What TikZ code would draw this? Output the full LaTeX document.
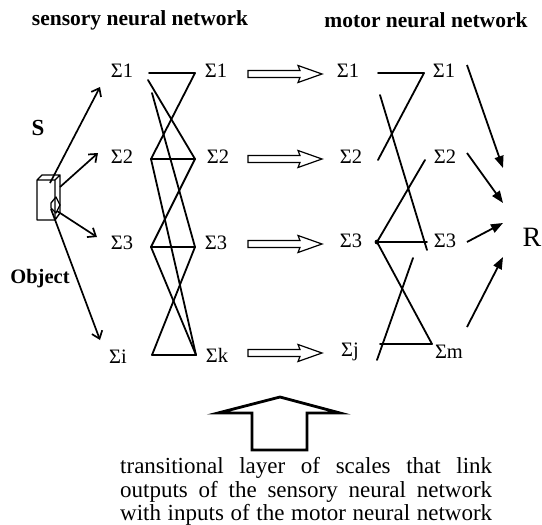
\documentclass[tikz,border=0pt]{standalone}
\usepackage{fontspec}
\setmainfont{Liberation Serif}
\usetikzlibrary{arrows.meta}
\begin{document}
\begin{tikzpicture}[x=1pt,y=-1pt,
  conn/.style={line width=1.8pt,line cap=round},
  sig/.style={inner sep=0pt,font=\fontsize{20.5}{20.5}\selectfont},
  hdr/.style={inner sep=0pt,font=\fontsize{21.5}{21.5}\selectfont\bfseries},
  lbl/.style={inner sep=0pt,font=\fontsize{20.5}{20.5}\selectfont\bfseries},
  ray/.style={line width=1.7pt,-{Straight Barb[length=7pt,width=11pt,line width=1.7pt]}},
  toR/.style={line width=1.8pt,-{Triangle[length=12pt,width=9pt]}},
  hollow/.style={line width=1.2pt,line join=miter},
  bigup/.style={line width=2.8pt,line join=miter},
  capline/.style={inner sep=0pt,anchor=base west,font=\fontsize{23}{23}\selectfont}
]
\useasboundingbox[fill=white] (0,0) rectangle (542,525);

% headings
\node[hdr] (hsens) at (140,20) {sensory neural network};
\node[hdr] (hmot) at (426,20) {motor neural network};

% sensory layer labels
\node[sig] (s1) at (122,71) {Σ1};
\node[sig] (s2) at (122,157) {Σ2};
\node[sig] (s3) at (122,243) {Σ3};
\node[sig] (si) at (118,357) {Σi};
\node[sig] (t1) at (216,71) {Σ1};
\node[sig] (t2) at (218,157) {Σ2};
\node[sig] (t3) at (216,243) {Σ3};
\node[sig] (tk) at (217,355) {Σk};

% motor layer labels
\node[sig] (m1) at (348,71) {Σ1};
\node[sig] (m2) at (351,157) {Σ2};
\node[sig] (m3) at (351,241) {Σ3};
\node[sig] (mj) at (350,352) {Σj};
\node[sig] (n1) at (444,71) {Σ1};
\node[sig] (n2) at (445,157) {Σ2};
\node[sig] (n3) at (445,241) {Σ3};
\node[sig] (nm) at (449,352) {Σm};

\node[inner sep=0pt,font=\fontsize{28}{28}\selectfont] (R) at (532,237) {R};
\node[lbl,font=\fontsize{23}{23}\selectfont\bfseries] (S) at (38,128) {S};
\node[lbl] (obj) at (40,279) {Object};

% sensory network vertices
\coordinate (a1) at (149,73);  \coordinate (b1) at (195,73);
\coordinate (a1x) at (148,80); \coordinate (a1y) at (152,93);
\coordinate (a2) at (151,159); \coordinate (b2) at (195,159);
\coordinate (a3) at (151,247); \coordinate (b3) at (195,247);
\coordinate (a4) at (152,355); \coordinate (b4) at (196,355);

\draw[conn] (a1) -- (b1);
\draw[conn] (b1) -- (a2);
\draw[conn] (a1x) -- (b2);
\draw[conn] (a1y) -- (b3);
\draw[conn] (a2) -- (b2);
\draw[conn] (b2) -- (a3);
\draw[conn] (a2) -- (b4);
\draw[conn] (a3) -- (b3);
\draw[conn] (a3) -- (b4);
\draw[conn] (b3) -- (a4);
\draw[conn] (a4) -- (b4);

% motor network vertices
\coordinate (c1) at (378,73);  \coordinate (d1) at (424,73);
\coordinate (c2) at (378,160); \coordinate (d2) at (425,160);
\coordinate (c1y) at (380,95); \coordinate (d3x) at (427,250);
\coordinate (c3) at (377,242); \coordinate (d3) at (427,242);
\coordinate (d3y) at (413,258); \coordinate (c4x) at (377,360);
\coordinate (c4) at (380,344); \coordinate (d4) at (432,344);

\draw[conn] (c1) -- (d1);
\draw[conn] (d1) -- (c2);
\draw[conn] (c1y) -- (d3x);
\draw[conn] (d2) -- (c3);
\draw[conn] (c3) -- (d3);
\draw[conn] (c3) -- (d4);
\draw[conn] (d3y) -- (c4x);
\draw[conn] (c4) -- (d4);
\fill (c3) circle (2.4pt);

% transfer arrows between the two networks
\foreach \y in {74,159,244,353}{
  \draw[hollow] (248,\y-3.5) -- (300,\y-3.5) -- (298,\y-8.5) -- (322,\y)
     -- (298,\y+8.5) -- (300,\y+3.5) -- (248,\y+3.5) -- cycle;
}

% outputs converging on R
\coordinate (r1s) at (467,65);  \coordinate (r1e) at (503,168);
\coordinate (r2s) at (467,153); \coordinate (r2e) at (503,203);
\coordinate (r3s) at (467,242); \coordinate (r3e) at (503,223);
\coordinate (r4s) at (467,327); \coordinate (r4e) at (503,257);
\draw[toR] (r1s) -- (r1e);
\draw[toR] (r2s) -- (r2e);
\draw[toR] (r3s) -- (r3e);
\draw[toR] (r4s) -- (r4e);

% the object: a small box with a cone on its side
\draw[line width=1.4pt,line join=round]
  (37,180) rectangle (55,220)
  (37,180) -- (42,175) -- (60,175) -- (55,180)
  (60,175) -- (60,213) -- (55,220);
\draw[line width=1.3pt,line join=round]
  (51,203) -- (56,197) -- (60,205) -- (56,213) -- (51,208) -- cycle;

% rays from the object to the sensory inputs
\coordinate (o1) at (50,183); \coordinate (e1) at (100,87);
\coordinate (o2) at (60,187); \coordinate (e2) at (98,153);
\coordinate (o3) at (57,211); \coordinate (e3) at (97,237);
\coordinate (o4) at (51,209); \coordinate (e4) at (100,340);
\draw[ray] (o1) -- (e1);
\draw[ray] (o2) -- (e2);
\draw[ray] (o3) -- (e3);
\draw[ray] (o4) -- (e4);

% big upward arrow and its caption
\draw[bigup] (252,450) -- (252,413) -- (218,413) -- (280,397) -- (340,413)
  -- (307,413) -- (307,450) -- cycle;
\node[capline] (cap1) at (120,473) {\makebox[372pt][s]{transitional layer of scales that link}};
\node[capline] (cap2) at (120,497) {\makebox[372pt][s]{outputs of the sensory neural network}};
\node[capline] (cap3) at (120,520) {\makebox[372pt][s]{with inputs of the motor neural network}};
\end{tikzpicture}
\end{document}
